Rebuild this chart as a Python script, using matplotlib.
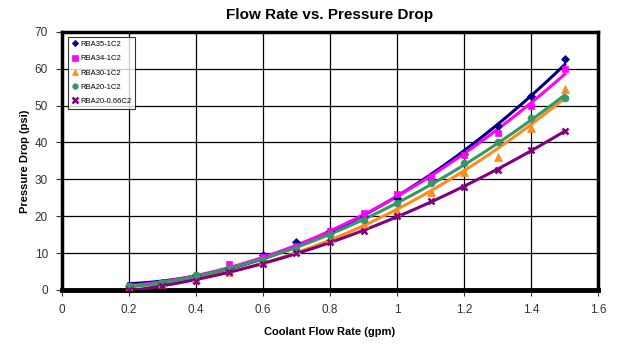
import numpy as np
import matplotlib
matplotlib.use("Agg")
import matplotlib.pyplot as plt

plt.rcParams["font.family"] = ["Liberation Sans", "DejaVu Sans"]

flow = [0.2, 0.3, 0.4, 0.5, 0.6, 0.7, 0.8, 0.9, 1.0, 1.1, 1.2, 1.3, 1.4, 1.5]
rba35_1c2 = [1, 2, 4, 6, 9.5, 13, 16, 20, 25, 30, 37, 44.5, 52.5, 62.5]
rba34_1c2 = [1, 2, 3.5, 7, 9, 12, 16, 21, 26, 30.5, 36.5, 42.5, 50, 60]
rba30_1c2 = [0.5, 1.5, 3, 5, 8, 11, 14, 18, 21.5, 26.5, 32, 36, 44, 54.5]
rba20_1c2 = [1, 2, 4, 6, 8, 11, 15, 19, 23.5, 29, 34.5, 40, 46.5, 52]
rba20_066c2 = [0, 1, 2.5, 5, 7, 10, 13, 16, 20, 24, 28, 32.5, 38, 43]

series = [
    ("RBA35-1C2", rba35_1c2, "#000080", "D", 4),
    ("RBA34-1C2", rba34_1c2, "#FF00FF", "s", 5),
    ("RBA30-1C2", rba30_1c2, "#FF8C1A", "^", 5.5),
    ("RBA20-1C2", rba20_1c2, "#339966", "o", 5),
    ("RBA20-0.66C2", rba20_066c2, "#800080", "x", 5),
]

fig = plt.figure(figsize=(6.18, 3.46), dpi=100)
ax = fig.add_axes([0.100, 0.162, 0.868, 0.746])

xs = np.linspace(min(flow), max(flow), 100)
for name, ys, col, mk, ms in series:
    # Excel-style 2nd order polynomial trendline
    p = np.polyfit(flow, ys, 2)
    ax.plot(xs, np.polyval(p, xs), color=col, lw=2.2, zorder=3)
for name, ys, col, mk, ms in series:
    ax.plot(flow, ys, ls="none", marker=mk, ms=ms, color=col, mew=1.8 if mk == "x" else 0.5,
            label=name, zorder=4)

ax.set_xlim(0, 1.6)
ax.set_ylim(0, 70)
ax.set_xticks(np.arange(0, 1.61, 0.2))
ax.set_xticklabels(["0", "0.2", "0.4", "0.6", "0.8", "1", "1.2", "1.4", "1.6"])
ax.set_yticks(range(0, 71, 10))
ax.grid(True, color="black", lw=0.9)
ax.set_axisbelow(True)
for s in ax.spines.values():
    s.set_linewidth(2.5)
ax.spines["bottom"].set_linewidth(3.5)
ax.tick_params(labelsize=8.5, colors="#333333", length=4, width=0.8, pad=6)

ax.set_title("Flow Rate vs. Pressure Drop", fontsize=11, fontweight="bold", pad=9)
ax.set_xlabel("Coolant Flow Rate (gpm)", fontsize=8, fontweight="bold", labelpad=8)
ax.set_ylabel("Pressure Drop (psi)", fontsize=8, fontweight="bold", labelpad=3)

leg = ax.legend(loc="upper left", fontsize=5.5, frameon=True, fancybox=False,
                edgecolor="black", handlelength=0.8, handletextpad=0.3,
                borderpad=0.5, labelspacing=0.9, markerscale=0.8,
                bbox_to_anchor=(0.005, 0.995))
leg.get_frame().set_linewidth(0.8)

fig.savefig("out.png", dpi=100)
